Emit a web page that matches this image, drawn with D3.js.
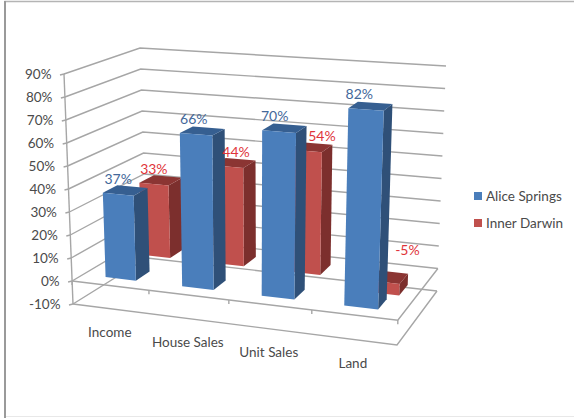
<!DOCTYPE html>
<html>
<head>
<meta charset="utf-8">
<script src="https://cdn.jsdelivr.net/npm/d3@7"></script>
<style>
html,body{margin:0;padding:0;background:#fff;}
svg{display:block;}
text{font-family:Lato,"Open Sans",sans-serif;}
</style>
</head>
<body>
<svg id="chart" width="574" height="418"></svg>
<script>
const categories = ["Income", "House Sales", "Unit Sales", "Land"];
const aliceSprings = [37, 66, 70, 82];
const innerDarwin = [33, 44, 54, -5];
const seriesNames = ["Alice Springs", "Inner Darwin"];
const valueTicks = [-10, 0, 10, 20, 30, 40, 50, 60, 70, 80, 90];

const frontFaces = ["#4a7ebb", "#c0504d"];
const sideFaces = ["#2f5078", "#7c2f2d"];
const topFaces = ["#365f91", "#8b3533"];
const labelColours = ["#44689a", "#e0343a"];
const gridColour = "#a6a6a6";
const textColour = "#4a4a4a";

// Corners of the chart box on the page: [front|back][Left|Right][low|high value]
const box = {
  fLl: [73, 304], fLh: [64, 74],
  fRl: [397, 345], fRh: [405, 98],
  bLl: [147, 258], bLh: [140, 48],
  bRl: [437, 291], bRh: [446, 66]
};

// Sideways drift of the value labels per category, one rate for each series
const labelDrift = [-2.2, 8];

const svg = d3.select("#chart");

// Axes of the box, each normalised to 0..1
const valueScale = d3.scaleLinear().domain([-10, 90]).range([0, 1]);
const categoryScale = d3.scaleBand().domain(categories).range([0, 1])
  .paddingInner(0.6).paddingOuter(0.3);
const categoryEdges = d3.scalePoint().domain(d3.range(categories.length + 1)).range([0, 1]);
const seriesScale = d3.scaleBand().domain(seriesNames).range([0, 1])
  .paddingInner(0.6).paddingOuter(0.3);

const mix = (a, b, t) => [a[0] + (b[0] - a[0]) * t, a[1] + (b[1] - a[1]) * t];

// Projects (across, depth, value) into page coordinates; "across" is
// foreshortened a little to give the box its perspective.
function project(u, d, v) {
  const t = valueScale(v);
  const w = u - 0.075 * u * (1 - u);
  const front = mix(mix(box.fLl, box.fRl, w), mix(box.fLh, box.fRh, w), t);
  const back = mix(mix(box.bLl, box.bRl, w), mix(box.bLh, box.bRh, w), t);
  return mix(front, back, d);
}

const line = d3.line();
const grid = svg.append("g").attr("fill", "none").attr("stroke", gridColour).attr("stroke-width", 1.4);

// Frame around the chart area
svg.append("path").attr("d", "M5,418V1.5H574").attr("fill", "none").attr("stroke", "#b4b4b4").attr("stroke-width", 1.5);
svg.append("line").attr("x1", 5).attr("x2", 5).attr("y1", 1).attr("y2", 418).attr("stroke", "#9a9a9a").attr("stroke-width", 2);
svg.append("line").attr("x1", 6).attr("x2", 574).attr("y1", 416.5).attr("y2", 416.5).attr("stroke", "#e8e8e8");

// Side wall and back wall grid lines
valueTicks.forEach(v => {
  grid.append("path").attr("d", line([project(0, 0, v), project(0, 1, v), project(1, 1, v)]));
  const a = project(0, 0, v);
  grid.append("path").attr("d", line([[a[0] - 4, a[1] + 1], a]));
});
grid.append("path").attr("d", line([project(0, 0, -10), project(0, 0, 90)]));

// Floor outlines: the zero plane and the bottom of the box
[0, -10].forEach(v => {
  grid.append("path").attr("d", line([project(0, 0, v), project(1, 0, v), project(1, 1, v)]));
});

// Category ticks under the zero plane
categoryEdges.domain().forEach(i => {
  const p = project(categoryEdges(i), 0, 0);
  grid.append("path").attr("d", line([p, [p[0], p[1] + 4]]));
});

// Value axis labels
svg.append("g").selectAll("text").data(valueTicks).join("text")
  .attr("x", v => project(0, 0, v)[0] - 12.5)
  .attr("y", v => project(0, 0, v)[1] + 0.5)
  .attr("dy", "0.35em").attr("text-anchor", "end")
  .attr("font-size", 13.5).attr("fill", textColour)
  .text(v => v + "%");

// Category labels
svg.append("g").selectAll("text").data(categories).join("text")
  .attr("x", c => project(categoryScale(c) + categoryScale.bandwidth() / 2, 0, -10)[0] - 1)
  .attr("y", c => project(categoryScale(c) + categoryScale.bandwidth() / 2, 0, -10)[1] + 23.5)
  .attr("dy", "0.35em").attr("text-anchor", "middle")
  .attr("font-size", 13.5).attr("fill", textColour)
  .text(c => c);

// Bars, rear series first so the front row overlaps it
const rows = [
  { name: seriesNames[1], values: innerDarwin, idx: 1 },
  { name: seriesNames[0], values: aliceSprings, idx: 0 }
];
const closed = pts => line(pts) + "Z";
const barLayer = svg.append("g");
const labelLayer = svg.append("g");

rows.forEach(row => {
  row.values.forEach((value, i) => {
    const c = categories[i];
    const u0 = categoryScale(c), u1 = u0 + categoryScale.bandwidth();
    const d0 = seriesScale(row.name), d1 = d0 + seriesScale.bandwidth();
    const hi = Math.max(0, value), lo = Math.min(0, value);
    const g = barLayer.append("g");
    g.append("path").attr("fill", sideFaces[row.idx])
      .attr("d", closed([project(u1, d0, lo), project(u1, d1, lo), project(u1, d1, hi), project(u1, d0, hi)]));
    g.append("path").attr("fill", topFaces[row.idx])
      .attr("d", closed([project(u0, d0, hi), project(u1, d0, hi), project(u1, d1, hi), project(u0, d1, hi)]));
    g.append("path").attr("fill", frontFaces[row.idx])
      .attr("d", closed([project(u0, d0, lo), project(u1, d0, lo), project(u1, d0, hi), project(u0, d0, hi)]));

    // Labels sit above the front face; the negative bar's label clears its own end
    const anchor = project((u0 + u1) / 2, d0, hi);
    labelLayer.append("text")
      .attr("x", anchor[0] + labelDrift[row.idx] * i)
      .attr("y", anchor[1] - (value < 0 ? 32 : 15))
      .attr("dy", "0.35em").attr("text-anchor", "middle")
      .attr("font-size", 14).attr("fill", labelColours[row.idx])
      .text(value + "%");
  });
});

// Legend
const legend = svg.append("g").selectAll("g").data(seriesNames).join("g")
  .attr("transform", (d, i) => `translate(474,${192 + i * 27})`);
legend.append("rect").attr("width", 8).attr("height", 8)
  .attr("fill", (d, i) => frontFaces[i]);
legend.append("text").attr("x", 12).attr("y", 4).attr("dy", "0.35em")
  .attr("font-size", 13.5).attr("fill", textColour).text(d => d);
</script>
</body>
</html>
